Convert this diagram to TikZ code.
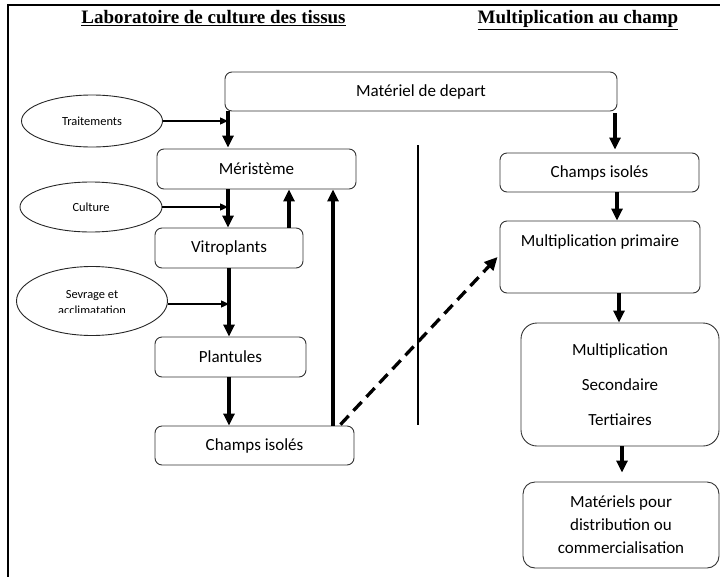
\documentclass[tikz,border=0pt]{standalone}
\usepackage{fontspec}
\setmainfont{Carlito}
\newfontfamily\titlefont{Liberation Serif}
\usetikzlibrary{shapes.geometric,arrows.meta,calc}
\begin{document}
\begin{tikzpicture}[x=1pt,y=-1pt,
  stepbox/.style={draw=black!80, line width=0.9pt, rounded corners=7pt,
    align=center, inner sep=0pt, font=\fontsize{17}{21}\selectfont},
  oval/.style={draw=black!85, line width=0.9pt, ellipse, inner sep=0pt,
    align=center, font=\fontsize{12.4}{16}\selectfont},
  flow/.style={line width=3.3pt, -{Triangle[length=12pt,width=11pt]}},
  feed/.style={line width=1.3pt, -{Triangle[length=8pt,width=7pt]}},
  heading/.style={font=\titlefont\bfseries\fontsize{19}{23}\selectfont, inner sep=0pt}]
\useasboundingbox (0,0) rectangle (720,576);
\clip (0,0) rectangle (720,576);

% outer frame
\draw[line width=1.6pt] (8,5) rectangle (740,600);

% headings
\node[heading] (hl) at (213.5,18) {\underline{Laboratoire de culture des tissus}};
\node[heading] (hr) at (578,20) {\underline{Multiplication au champ}};

% boxes
\node[stepbox, minimum width=392pt, minimum height=39pt] (dep) at (421,91.5) {Matériel de depart};
\node[stepbox, minimum width=199pt, minimum height=40pt] (mer) at (256.5,169) {Méristème};
\node[stepbox, minimum width=148pt, minimum height=40pt] (vit) at (229,248) {Vitroplants};
\node[stepbox, minimum width=151pt, minimum height=40pt] (pla) at (230.5,357) {Plantules};
\node[stepbox, minimum width=199pt, minimum height=39pt] (chl) at (254.5,445.5) {Champs isolés};
\node[stepbox, minimum width=199pt, minimum height=39pt] (chr) at (599.5,172.5) {Champs isolés};
\node[stepbox, minimum width=200pt, minimum height=72pt,
  label={[anchor=north, yshift=-11pt, font=\fontsize{17}{21}\selectfont]north:Multiplication primaire}] (mp) at (600,257) {};
\node[stepbox, rounded corners=16pt, minimum width=198pt, minimum height=123pt,
  font=\fontsize{17}{35}\selectfont] (ms) at (620,384.5) {Multiplication\\Secondaire\\Tertiaires};
\node[stepbox, rounded corners=12pt, minimum width=196pt, minimum height=86pt,
  font=\fontsize{17}{23}\selectfont] (mat) at (621,525) {Matériels pour\\distribution ou\\commercialisation};

% ellipses
\node[oval, minimum width=141pt, minimum height=52pt] (tr) at (92,121) {Traitements};
\node[oval, minimum width=142pt, minimum height=50pt] (cu) at (91,207) {Culture};
\node[oval, minimum width=151pt, minimum height=69pt] (sev) at (92,301) {};
\begin{scope}
  \clip (10,280) rectangle (175,312.5);
  \node[font=\fontsize{12.4}{16}\selectfont, align=center] (sevt) at (92,303) {Sevrage et\\acclimatation};
\end{scope}

% column positions of the vertical arrows
\coordinate (c1) at (228,0);
\coordinate (c2) at (229,0);
\coordinate (c3) at (289,0);
\coordinate (c4) at (333,0);
\coordinate (d1) at (615,0);
\coordinate (d2) at (617,0);
\coordinate (d3) at (619,0);
\coordinate (d4) at (622,0);

% laboratory column
\draw[flow] (dep.south -| c1) -- ($(mer.north -| c1)+(0,-1)$);
\draw[flow] (mer.south -| c1) -- (vit.north -| c1);
\draw[flow] (vit.north -| c3) -- (mer.south -| c3);
\draw[flow] (chl.north -| c4) -- (mer.south -| c4);
\draw[flow] (vit.south -| c2) -- (pla.north -| c2);
\draw[flow] (pla.south -| c2) -- (chl.north -| c2);

% inputs from the ellipses
\draw[feed] (tr.east) -- (tr.east -| c1);
\draw[feed] (cu.east) -- (cu.east -| c1);
\coordinate (sevin) at (92,304);
\draw[feed] (sevin -| sev.east) -- (sevin -| c2);

% field column
\draw[flow] ($(dep.south -| d1)+(0,2)$) -- ($(chr.north -| d1)+(0,-3)$);
\draw[flow] (chr.south -| d2) -- (mp.north -| d2);
\draw[flow] (mp.south -| d3) -- (ms.north -| d3);
\draw[flow] (ms.south -| d4) -- ($(mat.north -| d4)+(0,-9)$);

% separator and transfer to the field
\coordinate (s1) at (418,145);
\coordinate (s2) at (418,425);
\draw[line width=2.8pt] (s1) -- (s2);
\draw[line width=3.3pt, dash pattern=on 12pt off 7pt, -{Triangle[length=13pt,width=12pt]}]
  ($(chl.north east)+(-14,-1)$) -- ($(mp.west)+(-2,0)$);
\end{tikzpicture}
\end{document}
